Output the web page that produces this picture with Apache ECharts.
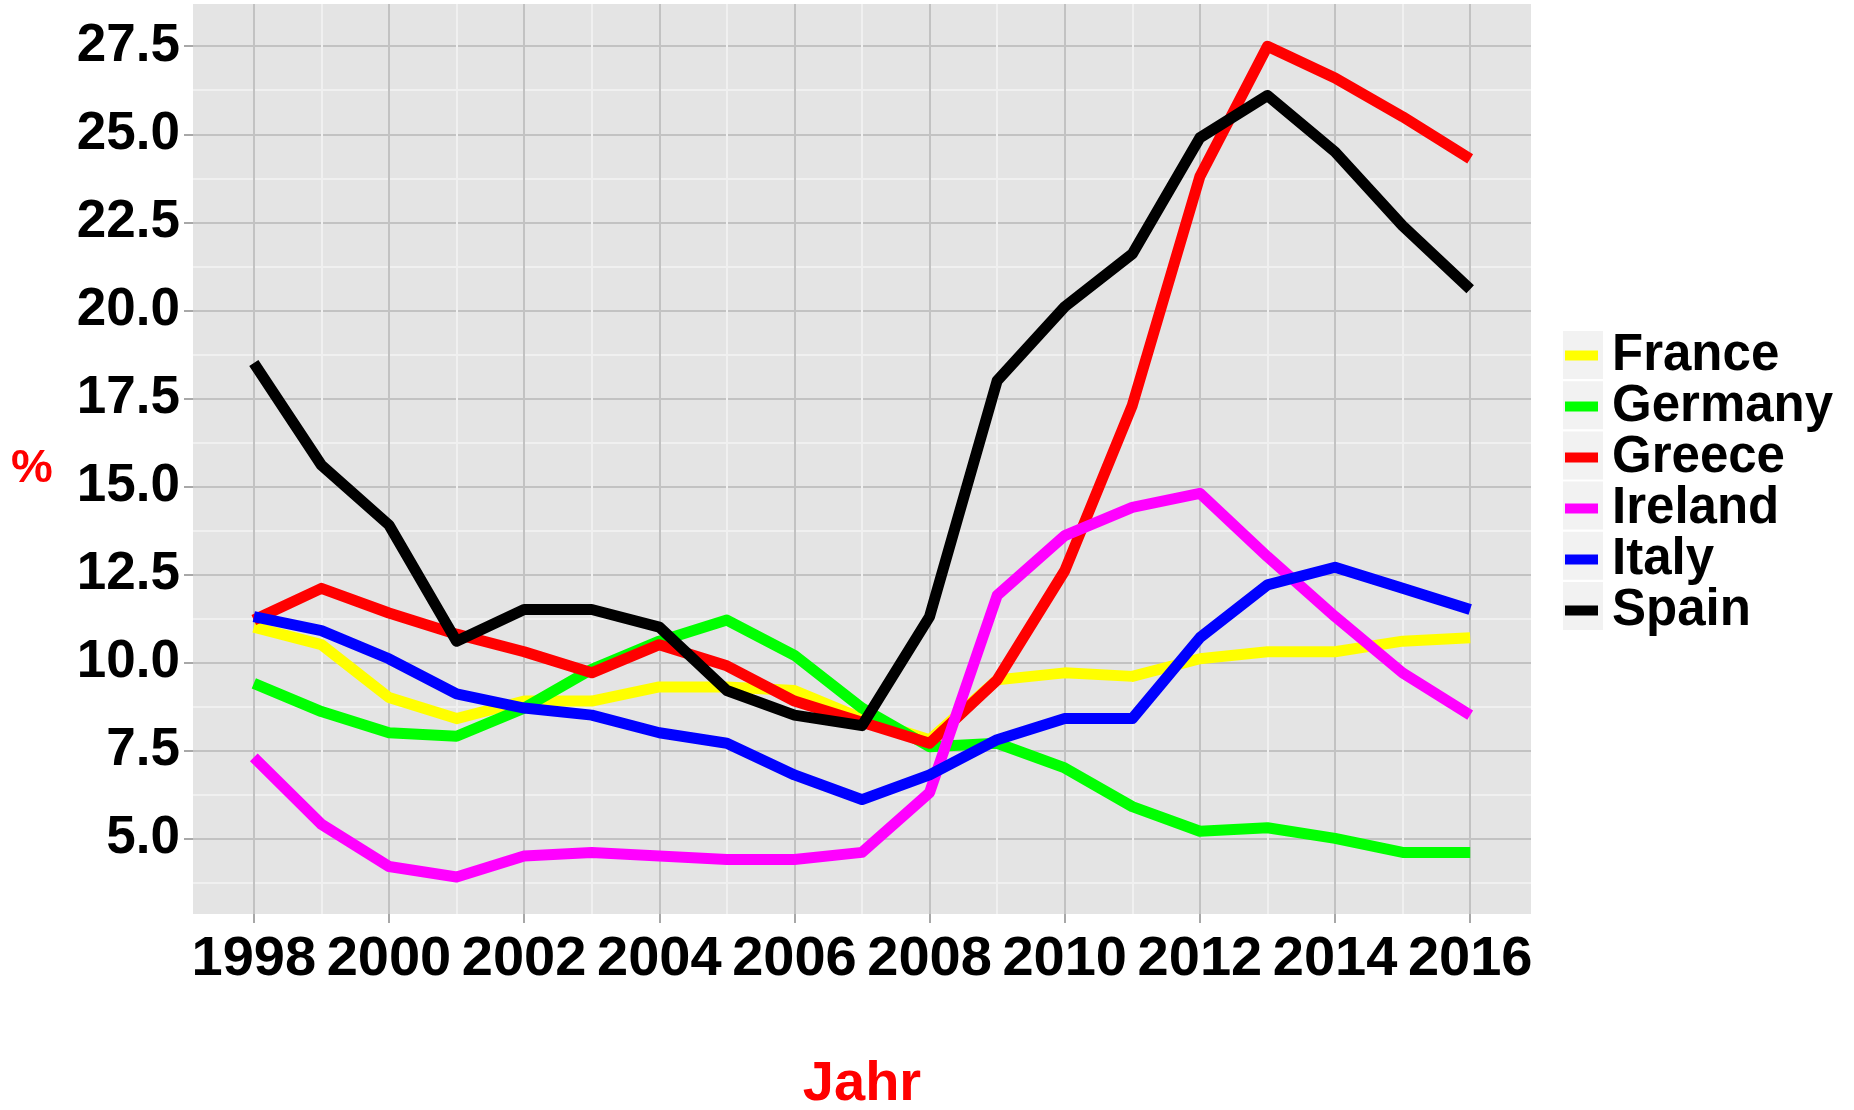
<!DOCTYPE html>
<html>
<head>
<meta charset="utf-8">
<title>Arbeitslosenquote</title>
<script src="https://cdn.jsdelivr.net/npm/echarts@6/dist/echarts.min.js"></script>
<style>
html, body { margin: 0; padding: 0; background: #fff; }
#lineChart { width: 1854px; height: 1110px; }
</style>
</head>
<body>
<div id="lineChart"></div>
<script>
// data
var years = [1998, 1999, 2000, 2001, 2002, 2003, 2004, 2005, 2006, 2007, 2008, 2009, 2010, 2011, 2012, 2013, 2014, 2015, 2016];
var countries = ['France', 'Germany', 'Greece', 'Ireland', 'Italy', 'Spain'];
var colors = ['#FFFF00', '#00FF00', '#FF0000', '#FF00FF', '#0000FF', '#000000'];

var france  = [11.0, 10.5, 9.0, 8.4, 8.9, 8.9, 9.3, 9.3, 9.2, 8.4, 7.8, 9.5, 9.7, 9.6, 10.1, 10.3, 10.3, 10.6, 10.7];
var germany = [9.4, 8.6, 8.0, 7.9, 8.7, 9.8, 10.6, 11.2, 10.2, 8.7, 7.6, 7.7, 7.0, 5.9, 5.2, 5.3, 5.0, 4.6, 4.6];
var greece  = [11.2, 12.1, 11.4, 10.8, 10.3, 9.7, 10.5, 9.9, 8.9, 8.3, 7.7, 9.5, 12.6, 17.3, 23.8, 27.5, 26.6, 25.5, 24.3];
var ireland = [7.3, 5.4, 4.2, 3.9, 4.5, 4.6, 4.5, 4.4, 4.4, 4.6, 6.3, 11.9, 13.6, 14.4, 14.8, 13.0, 11.3, 9.7, 8.5];
var italy   = [11.3, 10.9, 10.1, 9.1, 8.7, 8.5, 8.0, 7.7, 6.8, 6.1, 6.8, 7.8, 8.4, 8.4, 10.7, 12.2, 12.7, 12.1, 11.5];
var spain   = [18.5, 15.6, 13.9, 10.6, 11.5, 11.5, 11.0, 9.2, 8.5, 8.2, 11.3, 18.0, 20.1, 21.6, 24.9, 26.1, 24.5, 22.4, 20.6];

// tick labels (major) and minor grid positions
var xTicks = [1998, 2000, 2002, 2004, 2006, 2008, 2010, 2012, 2014, 2016];
var xMinor = [1999, 2001, 2003, 2005, 2007, 2009, 2011, 2013, 2015];
var yTicks = [5, 7.5, 10, 12.5, 15, 17.5, 20, 22.5, 25, 27.5];
var yMinor = [3.75, 6.25, 8.75, 11.25, 13.75, 16.25, 18.75, 21.25, 23.75, 26.25];

var myChart = echarts.init(document.getElementById('lineChart'));

var allValues = [france, germany, greece, ireland, italy, spain];
var series = [];
for (var i = 0; i < countries.length; i++) {
	var vals = allValues[i];
	series.push({
		name: countries[i],
		type: 'line',
		xAxisIndex: 0,
		yAxisIndex: 0,
		symbol: 'none',
		data: years.map(function (y, k) { return [y, vals[k]]; }),
		lineStyle: { width: 11, color: colors[i], join: 'round', cap: 'butt' },
		itemStyle: { color: colors[i] }
	});
}

// grey key boxes behind the legend icons
var legendTop = 330, legendStep = 50.2;
var graphics = [];
for (var j = 0; j < countries.length; j++) {
	graphics.push({
		type: 'rect',
		z: 0,
		shape: { x: 1563, y: legendTop + j * legendStep + 1, width: 40, height: 48 },
		style: { fill: '#F2F2F2' }
	});
}
// y axis title
graphics.push({
	type: 'text',
	left: 11, top: 446,
	style: { text: '%', fill: '#FF0000', font: 'bold 47px Liberation Sans, Arial, sans-serif' }
});

var boldSans = 'Liberation Sans, Arial, sans-serif';

var option = {
	animation: false,
	color: colors,
	grid: {
		left: 193, right: 323, top: 4, bottom: 196,
		outerBoundsMode: 'none',
		show: true, backgroundColor: '#E4E4E4', borderWidth: 0
	},
	legend: {
		data: countries,
		orient: 'vertical',
		left: 1565, top: legendTop,
		padding: 0,
		itemGap: 0,
		itemWidth: 33, itemHeight: 10,
		icon: 'rect',
		textStyle: {
			fontFamily: boldSans, fontWeight: 'bold', fontSize: 51,
			color: '#000', lineHeight: legendStep, padding: [0, 0, 0, 9]
		}
	},
	graphic: graphics,
	xAxis: [{
		type: 'value',
		min: 1997.1, max: 2016.9,
		name: 'Jahr',
		nameLocation: 'middle',
		nameGap: 143,
		nameTextStyle: { color: '#FF0000', fontFamily: boldSans, fontWeight: 'bold', fontSize: 56 },
		axisLine: { show: false },
		axisTick: { show: true, length: 9, customValues: xTicks, lineStyle: { color: '#A8A8A8', width: 2 } },
		axisLabel: {
			customValues: xTicks, margin: 18,
			showMinLabel: true, showMaxLabel: true,
			formatter: function (v) { return String(v); },
			fontFamily: boldSans, fontWeight: 'bold', fontSize: 56, color: '#000'
		},
		splitLine: { show: true, lineStyle: { color: '#C2C2C2', width: 2 } }
	}, {
		// only draws the white minor grid lines
		type: 'value',
		min: 1997.1, max: 2016.9,
		axisLine: { show: false },
		axisTick: { show: false, customValues: xMinor },
		axisLabel: { show: false, customValues: xMinor },
		splitLine: { show: true, lineStyle: { color: '#F0F0F0', width: 2 } }
	}],
	yAxis: [{
		type: 'value',
		min: 2.85, max: 28.7,
		axisLine: { show: false },
		axisTick: { show: true, length: 9, customValues: yTicks, lineStyle: { color: '#A8A8A8', width: 2 } },
		axisLabel: {
			customValues: yTicks, margin: 13,
			formatter: function (v) { return v.toFixed(1); },
			fontFamily: boldSans, fontWeight: 'bold', fontSize: 53, color: '#000'
		},
		splitLine: { show: true, lineStyle: { color: '#C2C2C2', width: 2 } }
	}, {
		type: 'value',
		min: 2.85, max: 28.7,
		axisLine: { show: false },
		axisTick: { show: false, customValues: yMinor },
		axisLabel: { show: false, customValues: yMinor },
		splitLine: { show: true, lineStyle: { color: '#F0F0F0', width: 2 } }
	}],
	series: series
};

myChart.setOption(option);
</script>
</body>
</html>
